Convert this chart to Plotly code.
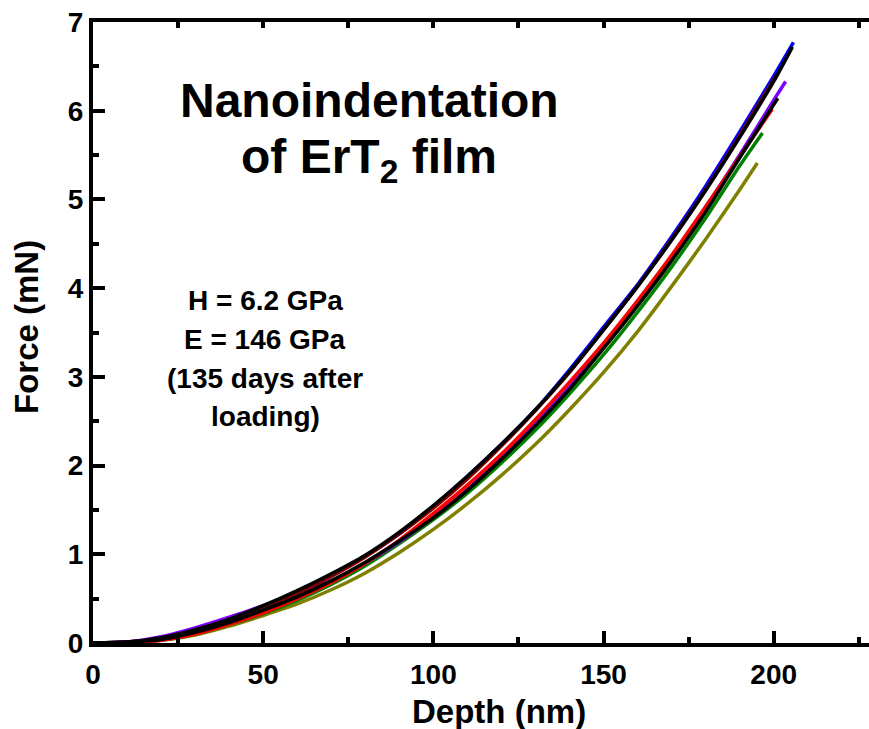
import plotly.graph_objects as go

# ---------------- data ----------------
grid = [0, 10, 20, 30, 40, 50, 60, 70, 80, 90, 100, 110, 120, 130, 140, 150, 160, 170, 180, 190, 200]

blue_depth = grid + [205.8]
blue_force = [0, 0.01, 0.05, 0.14, 0.26, 0.40, 0.57, 0.77, 0.98, 1.23, 1.54, 1.88, 2.24, 2.63, 3.08, 3.56, 4.04, 4.58, 5.15, 5.76, 6.39, 6.77]

maroon_depth = grid + [201.0]
maroon_force = [0, 0.01, 0.05, 0.13, 0.25, 0.40, 0.56, 0.75, 0.97, 1.23, 1.52, 1.85, 2.22, 2.62, 3.05, 3.53, 4.02, 4.55, 5.11, 5.72, 6.35, 6.41]

black1_depth = grid + [205.5]
black1_force = [0, 0.01, 0.06, 0.15, 0.27, 0.42, 0.59, 0.78, 0.99, 1.25, 1.55, 1.88, 2.24, 2.63, 3.06, 3.53, 4.02, 4.54, 5.10, 5.70, 6.33, 6.72]

purple_depth = grid + [203.5]
purple_force = [0, 0.01, 0.07, 0.17, 0.29, 0.42, 0.56, 0.70, 0.90, 1.14, 1.42, 1.73, 2.09, 2.48, 2.89, 3.36, 3.84, 4.35, 4.91, 5.50, 6.12, 6.33]

black2_depth = grid + [201.2]
black2_force = [0, 0.01, 0.04, 0.12, 0.23, 0.37, 0.52, 0.70, 0.91, 1.15, 1.41, 1.72, 2.07, 2.45, 2.86, 3.32, 3.80, 4.31, 4.86, 5.47, 6.07, 6.14]

red_depth = grid[:-1] + [199.6]
red_force = [0, 0.005, 0.03, 0.10, 0.21, 0.34, 0.50, 0.68, 0.90, 1.16, 1.46, 1.78, 2.13, 2.52, 2.94, 3.38, 3.86, 4.37, 4.92, 5.48, 6.02]

green_depth = grid[:-1] + [196.7]
green_force = [0, 0.005, 0.03, 0.10, 0.21, 0.33, 0.48, 0.66, 0.87, 1.12, 1.39, 1.69, 2.03, 2.40, 2.81, 3.25, 3.73, 4.24, 4.79, 5.38, 5.75]

olive_depth = grid[:-1] + [195.2]
olive_force = [0, 0.005, 0.03, 0.09, 0.19, 0.31, 0.44, 0.60, 0.79, 1.02, 1.28, 1.57, 1.89, 2.24, 2.63, 3.05, 3.51, 4.02, 4.55, 5.11, 5.41]

x_ticks = [0, 50, 100, 150, 200]
y_ticks = [0, 1, 2, 3, 4, 5, 6, 7]

title_lines = ["Nanoindentation", "of ErT<sub>2</sub> film"]
info_lines = ["H = 6.2 GPa", "E = 146 GPa", "(135 days after", "loading)"]

# ---------------- figure ----------------
FONT = "Liberation Sans, Arial, Helvetica, sans-serif"
series = [
    (olive_depth, olive_force, "#808000"),
    (green_depth, green_force, "#008000"),
    (blue_depth, blue_force, "#0000FF"),
    (purple_depth, purple_force, "#8000FF"),
    (red_depth, red_force, "#FF0000"),
    (maroon_depth, maroon_force, "#800000"),
    (black2_depth, black2_force, "#000000"),
    (black1_depth, black1_force, "#000000"),
]

fig = go.Figure()
for xs, ys, col in series:
    fig.add_trace(go.Scatter(x=xs, y=ys, mode="lines",
                             line=dict(color=col, width=3.5, shape="spline", smoothing=0.6),
                             showlegend=False, hoverinfo="skip"))

# invisible trace to activate top axis
fig.add_trace(go.Scatter(x=[0], y=[0], xaxis="x2", mode="lines", opacity=0,
                         showlegend=False, hoverinfo="skip"))

XR = [0, 228]
LW = 4
fig.update_layout(
    width=869, height=729,
    margin=dict(l=93, r=0, t=22, b=86),
    plot_bgcolor="white", paper_bgcolor="white",
    font=dict(family=FONT, color="black"),
    xaxis=dict(range=XR, tickvals=x_ticks, ticks="inside", ticklen=12, tickwidth=LW,
               tickcolor="black", showline=True, linewidth=LW, linecolor="black",
               showgrid=False, zeroline=False, ticklabelstandoff=3,
               tickfont=dict(size=28, family=FONT, weight="bold"),
               minor=dict(dtick=25, tick0=0, ticks="inside", ticklen=6, tickwidth=LW,
                          tickcolor="black", showgrid=False)),
    xaxis2=dict(range=XR, overlaying="x", side="top", anchor="y", dtick=25, tick0=0,
                ticks="inside", ticklen=6, tickwidth=LW, tickcolor="black",
                showline=True, linewidth=LW, linecolor="black",
                showticklabels=False, showgrid=False, zeroline=False),
    yaxis=dict(range=[0, 7], tickvals=y_ticks, ticks="inside", ticklen=12, tickwidth=LW,
               tickcolor="black", showline=True, linewidth=LW, linecolor="black",
               showgrid=False, zeroline=False,
               tickfont=dict(size=28, family=FONT, weight="bold"),
               minor=dict(dtick=0.5, tick0=0, ticks="inside", ticklen=6, tickwidth=LW,
                          tickcolor="black", showgrid=False)),
)

PW, PH = 869 - 93, 729 - 22 - 86
def px(xp):
    return (xp - 93) / PW
def py(yp):
    return (643 - yp) / PH

annots = []
# axis titles
annots.append(dict(text="<b>Depth (nm)</b>", x=px(499), y=py(711), xref="paper", yref="paper",
                   showarrow=False, xanchor="center", yanchor="middle",
                   font=dict(size=33, family=FONT, color="black")))
annots.append(dict(text="<b>Force (mN)</b>", x=px(26), y=py(327), xref="paper", yref="paper",
                   showarrow=False, xanchor="center", yanchor="middle", textangle=-90,
                   font=dict(size=33, family=FONT, color="black")))
# title
for t, yc in zip(title_lines, [100, 160]):
    annots.append(dict(text="<b>" + t + "</b>", x=px(369), y=py(yc), xref="paper", yref="paper",
                       showarrow=False, xanchor="center", yanchor="middle",
                       font=dict(size=48, family=FONT, color="black")))
# info block
for t, yc in zip(info_lines, [300, 339, 378, 417]):
    annots.append(dict(text="<b>" + t + "</b>", x=px(265), y=py(yc), xref="paper", yref="paper",
                       showarrow=False, xanchor="center", yanchor="middle",
                       font=dict(size=28, family=FONT, color="black")))
fig.update_layout(annotations=annots)

fig.write_html("out.html")
